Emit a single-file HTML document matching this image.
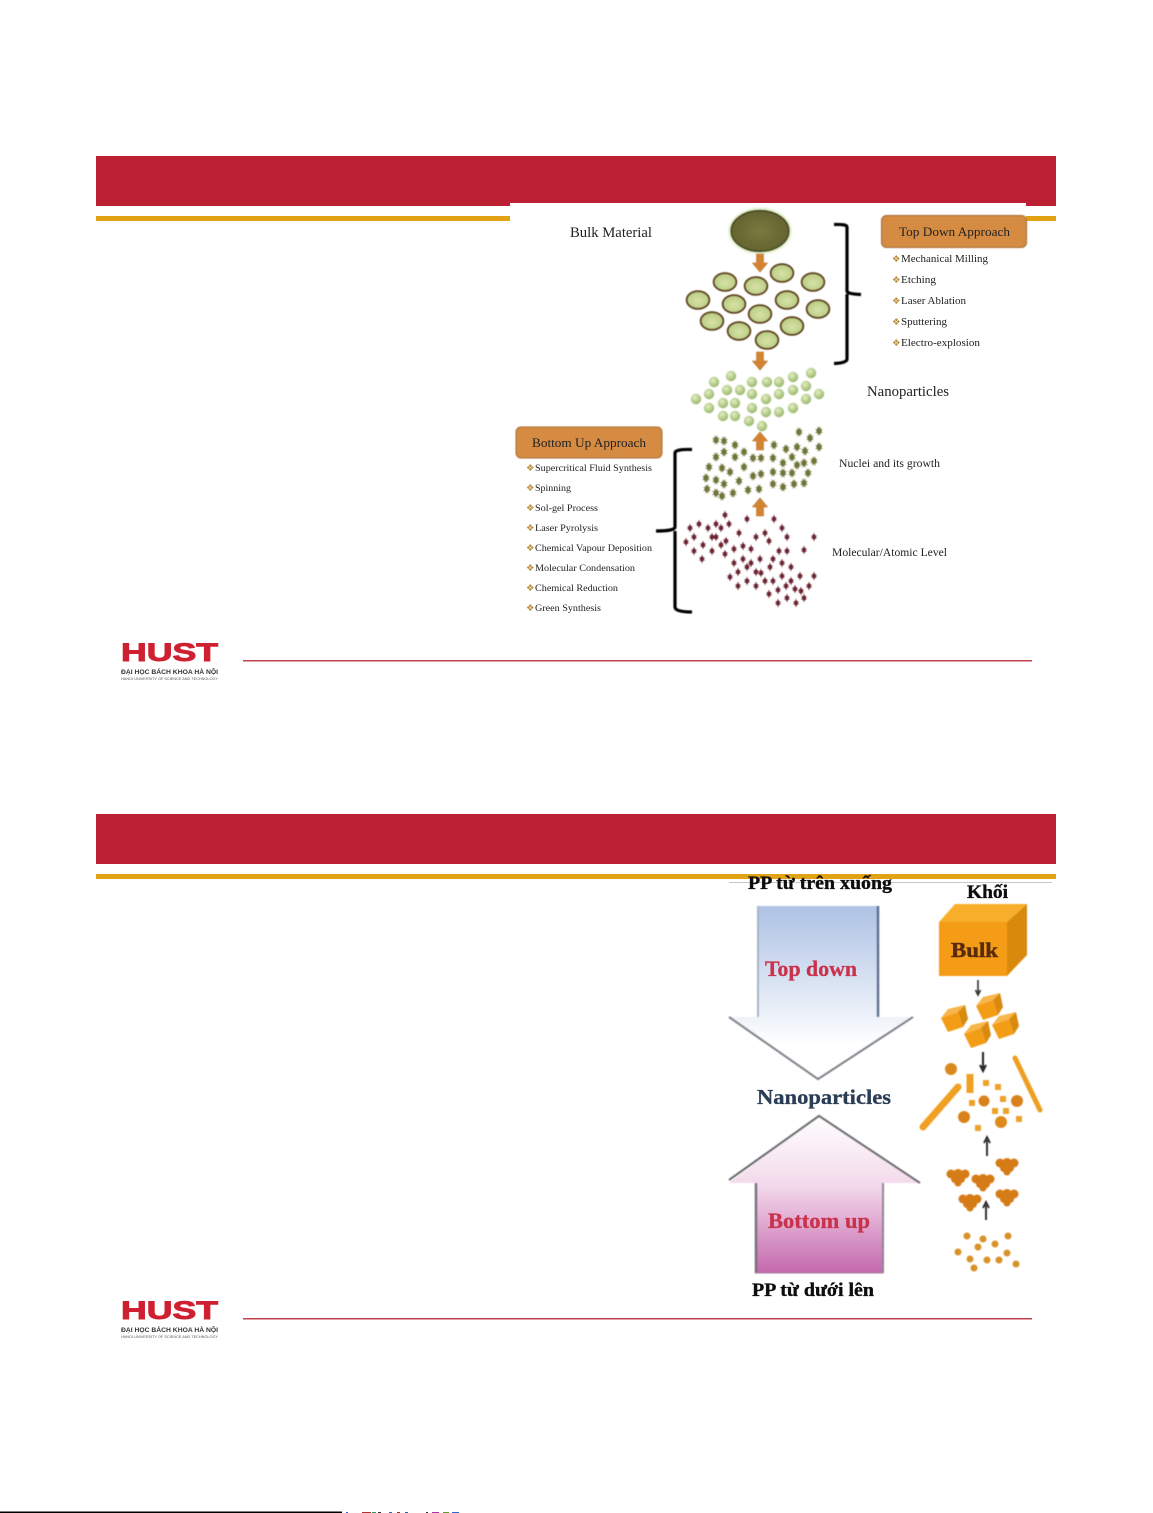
<!DOCTYPE html>
<html><head><meta charset="utf-8"><style>
html,body{margin:0;padding:0;background:#fff}
svg{display:block}
text{font-family:"Liberation Serif",serif}
.h{font-family:"Liberation Sans",sans-serif}
.dj{font-family:"DejaVu Sans",sans-serif}
.b{font-weight:bold}
</style></head><body>
<svg xmlns="http://www.w3.org/2000/svg" width="1153" height="1513" viewBox="0 0 1153 1513">
<defs>
<filter id="s" x="-5%" y="-5%" width="110%" height="110%"><feGaussianBlur stdDeviation="0.45"/></filter>
<filter id="ts" x="-5%" y="-5%" width="110%" height="110%"><feGaussianBlur stdDeviation="0.3"/></filter>
<filter id="g" x="-30%" y="-30%" width="160%" height="160%"><feGaussianBlur stdDeviation="1"/></filter>
<linearGradient id="td" x1="0" y1="0" x2="0" y2="1"><stop offset="0" stop-color="#aec2e4"/><stop offset=".55" stop-color="#e4ebf6"/><stop offset=".8" stop-color="#ffffff"/><stop offset="1" stop-color="#ffffff"/></linearGradient>
<linearGradient id="bu" x1="0" y1="0" x2="0" y2="1"><stop offset="0" stop-color="#ffffff"/><stop offset=".45" stop-color="#f3d8ea"/><stop offset="1" stop-color="#c468ad"/></linearGradient>
<radialGradient id="ov" cx=".5" cy=".55" r=".6"><stop offset="0" stop-color="#d6e2a8"/><stop offset="1" stop-color="#b5c97c"/></radialGradient>
<radialGradient id="dot" cx=".4" cy=".35" r=".7"><stop offset="0" stop-color="#e4eec2"/><stop offset="1" stop-color="#93b465"/></radialGradient>
<radialGradient id="big" cx=".5" cy=".5" r=".6"><stop offset="0" stop-color="#7a7940"/><stop offset=".8" stop-color="#65642f"/><stop offset="1" stop-color="#4a4a20"/></radialGradient>
<g id="o"><ellipse rx="11.300" ry="8.800" fill="url(#ov)" stroke="#5e3f1b" stroke-width="1.900"/></g>
<circle id="d" r="5.200" fill="url(#dot)"/>
<g id="n" fill="#6f7438"><ellipse rx="2.600" ry="3.200"/><path d="M-3.600-1.800L3.600 1.800M-3.600 1.800L3.600-1.800M-1.200-4.300L1.200 4.300M1.200-4.300L-1.200 4.300" stroke="#6f7438" stroke-width=".8"/></g>
<g id="m" fill="#6a2530"><ellipse rx="2" ry="2.700"/><path d="M-2.700-1.300L2.700 1.300M-2.700 1.300L2.700-1.300M0-4V4" stroke="#6a2530" stroke-width=".8"/></g>
<path id="ad" d="M-3.500-9H3.500V0H7.500L0 9L-7.500 0H-3.500Z" fill="#d38433" stroke="#b66d28" stroke-width=".6"/>
<path id="au" d="M-3.500 9H3.500V0H7.500L0-9L-7.500 0H-3.500Z" fill="#d38433" stroke="#b66d28" stroke-width=".6"/>
<g id="c"><path d="M-12-1L5-7L10 8L-5 13Z" fill="#f39c14"/><path d="M-12-1L-5-10L12-14L5-7Z" fill="#f7b64a"/><path d="M5-7L12-14L15 0L10 8Z" fill="#d98a10"/></g>
<g id="t" fill="#d67c18"><circle cx="-7" cy="-3" r="4.500"/><circle cx="7" cy="-3" r="4.500"/><circle cx="0" cy="-3" r="5"/><circle cx="-3" cy="2" r="4"/><circle cx="3" cy="2" r="4"/><circle cx="0" cy="6" r="3.500"/></g>
<circle id="q" r="3.500" fill="#d9922c"/>
<rect id="sq" x="-3" y="-3" width="6" height="6" fill="#eda22c"/>
</defs>

<!-- slide 1 -->
<rect x="96" y="156" width="960" height="50" fill="#be2033"/>
<rect x="96" y="216" width="960" height="5" fill="#e1a314"/>
<rect x="510" y="203" width="516" height="420" fill="#fff"/>
<text class="h" x="121" y="661" font-weight="bold" font-size="25" fill="#cf2032" stroke="#cf2032" stroke-width=".9" textLength="97" lengthAdjust="spacingAndGlyphs">HUST</text>
<text class="h" x="121" y="674" font-weight="bold" font-size="6.200" fill="#333" textLength="97" lengthAdjust="spacingAndGlyphs">ĐẠI HỌC BÁCH KHOA HÀ NỘI</text>
<text class="h" x="121" y="680" font-size="3.600" fill="#555" textLength="97" lengthAdjust="spacingAndGlyphs">HANOI UNIVERSITY OF SCIENCE AND TECHNOLOGY</text>
<rect x="243" y="660" width="789" height="1.500" fill="#c2414e"/>

<g filter="url(#s)">
<ellipse cx="760" cy="231" rx="31" ry="22.500" fill="#cfe3a6" filter="url(#g)"/>
<ellipse cx="760" cy="231" rx="29" ry="20.500" fill="url(#big)" stroke="#2e3016" stroke-width="1.200"/>
<use href="#ad" x="760" y="263"/><use href="#ad" x="760" y="361"/>
<use href="#au" x="760" y="441"/><use href="#au" x="760" y="507"/>
<use href="#o" x="725" y="282"/><use href="#o" x="756" y="286"/><use href="#o" x="782" y="273"/><use href="#o" x="813" y="282"/><use href="#o" x="698" y="300"/><use href="#o" x="734" y="304"/><use href="#o" x="787" y="300"/><use href="#o" x="818" y="309"/><use href="#o" x="760" y="314"/><use href="#o" x="712" y="321"/><use href="#o" x="739" y="331"/><use href="#o" x="792" y="326"/><use href="#o" x="767" y="340"/>
<use href="#d" x="714" y="382"/><use href="#d" x="731" y="376"/><use href="#d" x="752" y="382"/><use href="#d" x="767" y="382"/><use href="#d" x="779" y="382"/><use href="#d" x="793" y="377"/><use href="#d" x="811" y="373"/><use href="#d" x="696" y="399"/><use href="#d" x="709" y="394"/><use href="#d" x="727" y="390"/><use href="#d" x="740" y="390"/><use href="#d" x="752" y="394"/><use href="#d" x="766" y="399"/><use href="#d" x="779" y="394"/><use href="#d" x="793" y="390"/><use href="#d" x="806" y="386"/><use href="#d" x="819" y="394"/><use href="#d" x="806" y="399"/><use href="#d" x="709" y="408"/><use href="#d" x="723" y="403"/><use href="#d" x="735" y="403"/><use href="#d" x="752" y="408"/><use href="#d" x="766" y="412"/><use href="#d" x="779" y="412"/><use href="#d" x="793" y="408"/><use href="#d" x="723" y="416"/><use href="#d" x="735" y="416"/><use href="#d" x="749" y="421"/><use href="#d" x="762" y="426"/>
<use href="#n" x="716" y="440"/><use href="#n" x="724" y="441"/><use href="#n" x="735" y="445"/><use href="#n" x="744" y="452"/><use href="#n" x="724" y="452"/><use href="#n" x="716" y="457"/><use href="#n" x="735" y="457"/><use href="#n" x="753" y="458"/><use href="#n" x="761" y="458"/><use href="#n" x="773" y="458"/><use href="#n" x="774" y="445"/><use href="#n" x="786" y="449"/><use href="#n" x="797" y="447"/><use href="#n" x="799" y="432"/><use href="#n" x="810" y="438"/><use href="#n" x="819" y="431"/><use href="#n" x="819" y="447"/><use href="#n" x="805" y="451"/><use href="#n" x="792" y="457"/><use href="#n" x="783" y="463"/><use href="#n" x="797" y="465"/><use href="#n" x="804" y="463"/><use href="#n" x="814" y="461"/><use href="#n" x="709" y="467"/><use href="#n" x="722" y="468"/><use href="#n" x="730" y="472"/><use href="#n" x="744" y="467"/><use href="#n" x="773" y="472"/><use href="#n" x="783" y="473"/><use href="#n" x="792" y="473"/><use href="#n" x="808" y="473"/><use href="#n" x="753" y="476"/><use href="#n" x="761" y="474"/><use href="#n" x="706" y="478"/><use href="#n" x="716" y="480"/><use href="#n" x="724" y="484"/><use href="#n" x="739" y="481"/><use href="#n" x="773" y="484"/><use href="#n" x="783" y="487"/><use href="#n" x="794" y="484"/><use href="#n" x="804" y="483"/><use href="#n" x="707" y="489"/><use href="#n" x="716" y="493"/><use href="#n" x="722" y="496"/><use href="#n" x="733" y="493"/><use href="#n" x="748" y="490"/><use href="#n" x="759" y="489"/>
<use href="#m" x="725" y="515"/><use href="#m" x="747" y="519"/><use href="#m" x="774" y="519"/><use href="#m" x="699" y="524"/><use href="#m" x="690" y="528"/><use href="#m" x="708" y="528"/><use href="#m" x="716" y="524"/><use href="#m" x="721" y="528"/><use href="#m" x="729" y="524"/><use href="#m" x="694" y="537"/><use href="#m" x="712" y="537"/><use href="#m" x="716" y="537"/><use href="#m" x="726" y="541"/><use href="#m" x="686" y="542"/><use href="#m" x="703" y="545"/><use href="#m" x="721" y="545"/><use href="#m" x="694" y="551"/><use href="#m" x="712" y="551"/><use href="#m" x="725" y="554"/><use href="#m" x="734" y="549"/><use href="#m" x="743" y="546"/><use href="#m" x="751" y="549"/><use href="#m" x="702" y="559"/><use href="#m" x="739" y="533"/><use href="#m" x="756" y="537"/><use href="#m" x="765" y="533"/><use href="#m" x="769" y="541"/><use href="#m" x="782" y="528"/><use href="#m" x="787" y="537"/><use href="#m" x="814" y="537"/><use href="#m" x="779" y="551"/><use href="#m" x="787" y="551"/><use href="#m" x="804" y="550"/><use href="#m" x="760" y="559"/><use href="#m" x="743" y="559"/><use href="#m" x="773" y="559"/><use href="#m" x="734" y="563"/><use href="#m" x="751" y="563"/><use href="#m" x="782" y="563"/><use href="#m" x="791" y="567"/><use href="#m" x="738" y="572"/><use href="#m" x="747" y="567"/><use href="#m" x="756" y="572"/><use href="#m" x="761" y="573"/><use href="#m" x="770" y="567"/><use href="#m" x="730" y="577"/><use href="#m" x="782" y="576"/><use href="#m" x="800" y="576"/><use href="#m" x="814" y="576"/><use href="#m" x="747" y="581"/><use href="#m" x="765" y="581"/><use href="#m" x="773" y="581"/><use href="#m" x="791" y="581"/><use href="#m" x="738" y="586"/><use href="#m" x="756" y="586"/><use href="#m" x="786" y="586"/><use href="#m" x="809" y="586"/><use href="#m" x="778" y="590"/><use href="#m" x="795" y="589"/><use href="#m" x="801" y="591"/><use href="#m" x="769" y="594"/><use href="#m" x="787" y="598"/><use href="#m" x="804" y="598"/><use href="#m" x="778" y="603"/><use href="#m" x="796" y="603"/>
<path d="M834 224.500Q847 224 847 227V291Q847 294 861 294.500M847 294V359Q847 363 834 363.500" fill="none" stroke="#000" stroke-width="3.200"/>
<path d="M692 449.500Q675 449 675 453V527Q675 531 656 531M675 531V607Q675 612 692 612" fill="none" stroke="#000" stroke-width="3.200"/>
<rect x="881.500" y="215.500" width="145" height="32" rx="5" fill="#d68b42" stroke="#a56b33"/>
<rect x="516" y="427" width="146" height="31" rx="5" fill="#d68b42" stroke="#a56b33"/>
</g>

<g fill="#222" filter="url(#ts)">
<text x="570" y="237" font-size="14.500" textLength="82" lengthAdjust="spacingAndGlyphs">Bulk Material</text>
<text x="867" y="396" font-size="14.500" textLength="82" lengthAdjust="spacingAndGlyphs">Nanoparticles</text>
<text x="839" y="467" font-size="12" textLength="101" lengthAdjust="spacingAndGlyphs">Nuclei and its growth</text>
<text x="832" y="556" font-size="12" textLength="115" lengthAdjust="spacingAndGlyphs">Molecular/Atomic Level</text>
<text x="899" y="236" font-size="13" textLength="111" lengthAdjust="spacingAndGlyphs">Top Down Approach</text>
<text x="532" y="447" font-size="13" textLength="114" lengthAdjust="spacingAndGlyphs">Bottom Up Approach</text>
<g font-size="10.500">
<text x="901" y="262" textLength="87" lengthAdjust="spacingAndGlyphs">Mechanical Milling</text>
<text x="901" y="283" textLength="35" lengthAdjust="spacingAndGlyphs">Etching</text>
<text x="901" y="304" textLength="65" lengthAdjust="spacingAndGlyphs">Laser Ablation</text>
<text x="901" y="325" textLength="46" lengthAdjust="spacingAndGlyphs">Sputtering</text>
<text x="901" y="346" textLength="79" lengthAdjust="spacingAndGlyphs">Electro-explosion</text>
</g>
<g font-size="9.500">
<text x="535" y="471" textLength="117" lengthAdjust="spacingAndGlyphs">Supercritical Fluid Synthesis</text>
<text x="535" y="491" textLength="36" lengthAdjust="spacingAndGlyphs">Spinning</text>
<text x="535" y="511" textLength="63" lengthAdjust="spacingAndGlyphs">Sol-gel Process</text>
<text x="535" y="531" textLength="63" lengthAdjust="spacingAndGlyphs">Laser Pyrolysis</text>
<text x="535" y="551" textLength="117" lengthAdjust="spacingAndGlyphs">Chemical Vapour Deposition</text>
<text x="535" y="571" textLength="100" lengthAdjust="spacingAndGlyphs">Molecular Condensation</text>
<text x="535" y="591" textLength="83" lengthAdjust="spacingAndGlyphs">Chemical Reduction</text>
<text x="535" y="611" textLength="66" lengthAdjust="spacingAndGlyphs">Green Synthesis</text>
</g>
</g>
<g fill="#b98f3c" font-size="9.500">
<text class="dj" x="892" y="262">❖</text><text class="dj" x="892" y="283">❖</text><text class="dj" x="892" y="304">❖</text><text class="dj" x="892" y="325">❖</text><text class="dj" x="892" y="346">❖</text>
<text class="dj" x="526" y="471">❖</text><text class="dj" x="526" y="491">❖</text><text class="dj" x="526" y="511">❖</text><text class="dj" x="526" y="531">❖</text><text class="dj" x="526" y="551">❖</text><text class="dj" x="526" y="571">❖</text><text class="dj" x="526" y="591">❖</text><text class="dj" x="526" y="611">❖</text>
</g>

<!-- slide 2 -->
<rect x="96" y="814" width="960" height="50" fill="#be2033"/>
<rect x="96" y="874" width="960" height="5" fill="#e1a314"/>
<rect x="729" y="882" width="323" height="1" fill="#c8c8c8"/>
<text class="h" x="121" y="1319" font-weight="bold" font-size="25" fill="#cf2032" stroke="#cf2032" stroke-width=".9" textLength="97" lengthAdjust="spacingAndGlyphs">HUST</text>
<text class="h" x="121" y="1332" font-weight="bold" font-size="6.200" fill="#333" textLength="97" lengthAdjust="spacingAndGlyphs">ĐẠI HỌC BÁCH KHOA HÀ NỘI</text>
<text class="h" x="121" y="1338" font-size="3.600" fill="#555" textLength="97" lengthAdjust="spacingAndGlyphs">HANOI UNIVERSITY OF SCIENCE AND TECHNOLOGY</text>
<rect x="243" y="1318" width="789" height="1.500" fill="#c2414e"/>

<g filter="url(#s)">
<path d="M758 906H878V1017H913L818 1079L729 1017H758Z" fill="url(#td)"/>
<path d="M758 906V1017" stroke="#a9b4c4" stroke-width="2" fill="none"/>
<path d="M878 906V1017" stroke="#5f6f8f" stroke-width="2.500" fill="none"/>
<path d="M729 1017L818 1079L913 1017" stroke="#82868d" stroke-width="2.200" fill="none"/>
<path d="M755 1183H729L819 1116L920 1183H883V1273H755Z" fill="url(#bu)"/>
<path d="M729 1180L819 1116L920 1183" stroke="#6f6f74" stroke-width="2.200" fill="none"/>
<path d="M756 1183V1273" stroke="#77707e" stroke-width="2.500" fill="none"/>
<path d="M883 1183V1273" stroke="#8d8596" stroke-width="2" fill="none"/>
<path d="M755 1273H883" stroke="#a37aa0" stroke-width="1" fill="none"/>
<path d="M939 922L955 904H1027L1007 922Z" fill="#f8ae2c"/>
<path d="M1007 922L1027 904V955L1007 976Z" fill="#d98a10"/>
<rect x="939" y="922" width="68" height="54" fill="#f49c12"/>
<path d="M978 980V993M975.500 990L978 995L980.500 990" stroke="#333" stroke-width="1.600" fill="none"/>
<path d="M983 1052V1068M980 1065L983 1071L986 1065" stroke="#222" stroke-width="2" fill="none"/>
<path d="M987 1156V1140M984 1143L987 1137L990 1143" stroke="#222" stroke-width="1.800" fill="none"/>
<path d="M986 1220V1205M983 1208L986 1202L989 1208" stroke="#222" stroke-width="1.800" fill="none"/>
<use href="#c" x="953" y="1019"/><use href="#c" x="988" y="1007"/><use href="#c" x="1004" y="1026"/><use href="#c" x="976" y="1035"/>
<circle cx="951" cy="1069" r="6" fill="#d98a1c"/>
<path d="M923 1127L958 1087" stroke="#f0a020" stroke-width="7" stroke-linecap="round"/>
<path d="M1015 1058L1040 1110" stroke="#ee9f22" stroke-width="5" stroke-linecap="round"/>
<path d="M970 1074V1093" stroke="#f0a020" stroke-width="7"/>
<circle cx="984" cy="1101" r="5.500" fill="#d9821c"/><circle cx="1017" cy="1101" r="6" fill="#d9821c"/><circle cx="964" cy="1117" r="6" fill="#d9821c"/><circle cx="1001" cy="1122" r="6" fill="#e08a1c"/>
<use href="#sq" x="972" y="1103"/><use href="#sq" x="1003" y="1099"/><use href="#sq" x="995" y="1111"/><use href="#sq" x="1006" y="1111"/><use href="#sq" x="1019" y="1119"/><use href="#sq" x="978" y="1128"/><use href="#sq" x="986" y="1083"/><use href="#sq" x="998" y="1087"/>
<use href="#t" x="958" y="1177"/><use href="#t" x="983" y="1182"/><use href="#t" x="1007" y="1166"/><use href="#t" x="970" y="1202"/><use href="#t" x="1007" y="1197"/>
<use href="#q" x="967" y="1236"/><use href="#q" x="983" y="1239"/><use href="#q" x="1008" y="1236"/><use href="#q" x="995" y="1244"/><use href="#q" x="978" y="1247"/><use href="#q" x="1007" y="1253"/><use href="#q" x="958" y="1252"/><use href="#q" x="970" y="1259"/><use href="#q" x="987" y="1260"/><use href="#q" x="999" y="1260"/><use href="#q" x="1016" y="1264"/><use href="#q" x="974" y="1268"/>
</g>

<g filter="url(#ts)">
<text class="b" x="748" y="889" font-size="19" fill="#111" stroke="#111" stroke-width=".35" textLength="144" lengthAdjust="spacingAndGlyphs">PP từ trên xuống</text>
<text class="b" x="967" y="898" font-size="19" fill="#111" stroke="#111" stroke-width=".35" textLength="41" lengthAdjust="spacingAndGlyphs">Khối</text>
<text class="b" x="951" y="957" font-size="21" fill="#5a2c0a" stroke="#5a2c0a" stroke-width=".5" textLength="47" lengthAdjust="spacingAndGlyphs">Bulk</text>
<text class="b" x="765" y="976" font-size="22" fill="#c9324c" stroke="#c9324c" stroke-width=".3" textLength="92" lengthAdjust="spacingAndGlyphs">Top down</text>
<text class="b" x="757" y="1104" font-size="21" fill="#2c3d55" stroke="#2c3d55" stroke-width=".3" textLength="134" lengthAdjust="spacingAndGlyphs">Nanoparticles</text>
<text class="b" x="768" y="1228" font-size="22" fill="#c9324c" stroke="#c9324c" stroke-width=".3" textLength="102" lengthAdjust="spacingAndGlyphs">Bottom up</text>
<text class="b" x="752" y="1296" font-size="19" fill="#111" stroke="#111" stroke-width=".35" textLength="122" lengthAdjust="spacingAndGlyphs">PP từ dưới lên</text>
</g>

<rect x="0" y="1511.500" width="342" height="1.500" fill="#000"/>
<g>
<rect x="346" y="1512" width="2" height="1" fill="#36c"/><rect x="362" y="1512" width="9" height="1" fill="#a33"/><rect x="372" y="1512" width="4" height="1" fill="#396"/><rect x="378" y="1512" width="3" height="1" fill="#333"/><rect x="389" y="1512" width="3" height="1" fill="#36a"/><rect x="397" y="1512" width="3" height="1" fill="#933"/><rect x="405" y="1512" width="3" height="1" fill="#369"/><rect x="426" y="1512" width="2" height="1" fill="#333"/><rect x="432" y="1512" width="7" height="1" fill="#a3a"/><rect x="443" y="1512" width="6" height="1" fill="#693"/><rect x="452" y="1512" width="7" height="1" fill="#36c"/>
</g>
</svg>
</body></html>
